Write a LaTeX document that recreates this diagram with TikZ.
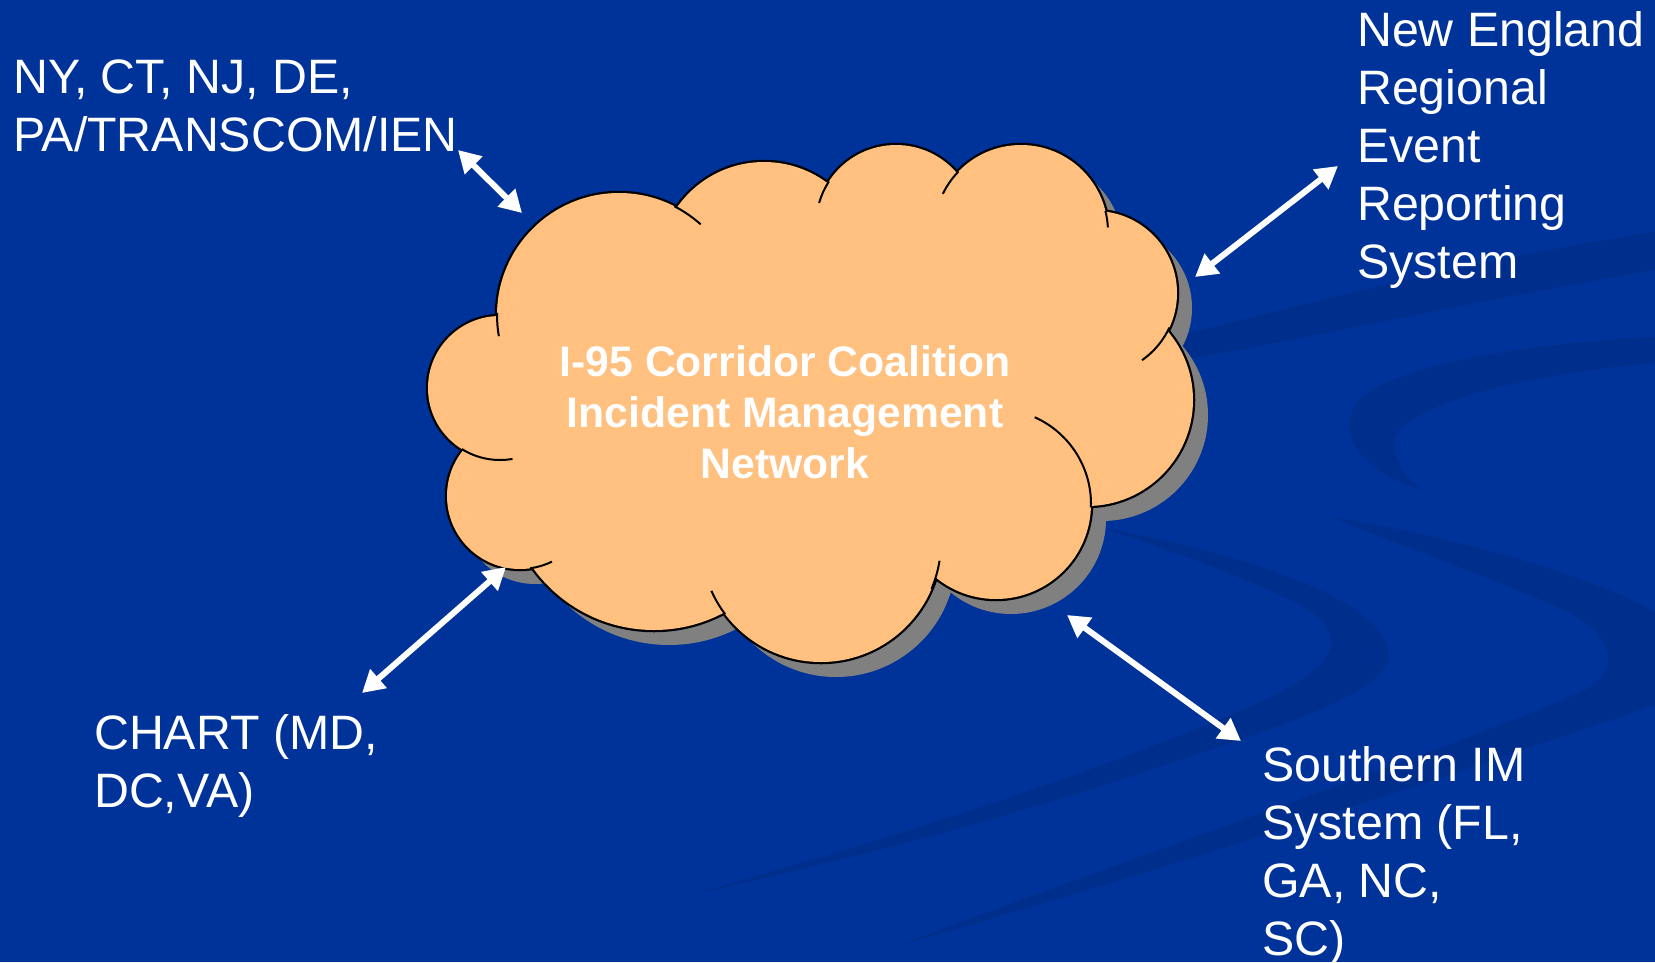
\documentclass[tikz,border=0pt]{standalone}
\usepackage{fontspec}
\setmainfont{Liberation Sans}
\usetikzlibrary{arrows.meta}

\definecolor{slideblue}{RGB}{0,51,153}
\definecolor{swooshblue}{RGB}{0,46,141}
\definecolor{cloudorange}{RGB}{255,192,128}
\definecolor{cloudshadow}{RGB}{128,128,128}

% cloud bumps: centre x / centre y / radius
\newcommand{\cloudbumps}{619/315/122, 764/268/106, 896/225/80, 1021/232/87,
  1095/293/82, 1087/400/106, 996/504/95, 821/542/120, 654/481/149,
  520/496/73, 500/388/72}

\tikzset{
  sidelabel/.style={text=white, inner sep=0pt, anchor=base west,
    font=\fontsize{48.3}{58}\selectfont},
  link/.style={white, line width=6pt,
    {Triangle[length=22pt,width=24pt]}-{Triangle[length=22pt,width=24pt]}},
  inner arc/.style={line width=2pt},
}

\begin{document}
\begin{tikzpicture}[x=1pt,y=-1pt]
\useasboundingbox (0,0) rectangle (1655,962);
\fill[slideblue] (0,0) rectangle (1655,962);

% background swooshes
\begin{scope}
  \clip (0,0) rectangle (1655,962);
  \fill[swooshblue] (1140,345) .. controls (1300,305) and (1480,258) .. (1655,232)
    -- (1655,270) .. controls (1480,300) and (1300,340) .. (1140,368) -- cycle;
  \fill[swooshblue] (1655,337) .. controls (1500,345) and (1380,370) .. (1355,405)
    .. controls (1335,440) and (1370,475) .. (1423,490)
    .. controls (1395,470) and (1385,440) .. (1405,425)
    .. controls (1440,395) and (1550,372) .. (1655,363) -- cycle;
  \fill[swooshblue] (1330,517) .. controls (1450,535) and (1590,575) .. (1655,612)
    -- (1655,705) .. controls (1450,775) and (1200,860) .. (900,945)
    .. controls (1150,850) and (1450,750) .. (1585,690)
    .. controls (1620,670) and (1615,640) .. (1571,613)
    .. controls (1520,590) and (1440,560) .. (1330,517) -- cycle;
  \fill[swooshblue] (1100,527) .. controls (1250,555) and (1380,600) .. (1388,650)
    .. controls (1395,690) and (1300,720) .. (1150,770)
    .. controls (1000,820) and (850,860) .. (690,895)
    .. controls (850,850) and (1050,790) .. (1230,715)
    .. controls (1330,675) and (1360,640) .. (1300,605)
    .. controls (1240,575) and (1170,550) .. (1100,527) -- cycle;
\end{scope}

% cloud shadow
\begin{scope}[shift={(15,15)}]
  \foreach \cx/\cy/\rad in \cloudbumps
    \fill[cloudshadow] (\cx,\cy) circle[radius=\rad];
  \fill[cloudshadow] (619,315) -- (764,268) -- (896,225) -- (1021,232) -- (1095,293)
    -- (1087,400) -- (996,504) -- (821,542) -- (654,481) -- (520,496) -- (500,388) -- cycle;
\end{scope}

% cloud outline and body
\foreach \cx/\cy/\rad in \cloudbumps
  \draw[line width=4.5pt] (\cx,\cy) circle[radius=\rad];
\foreach \cx/\cy/\rad in \cloudbumps
  \fill[cloudorange] (\cx,\cy) circle[radius=\rad];
\fill[cloudorange] (619,315) -- (764,268) -- (896,225) -- (1021,232) -- (1095,293)
  -- (1087,400) -- (996,504) -- (821,542) -- (654,481) -- (520,496) -- (500,388) -- cycle;

% arcs running on inside the cloud
\foreach \cx/\cy/\rad/\sa/\ea in {619/315/122/-63/-48, 619/315/122/170/181,
    896/225/80/-164/-147, 1021/232/87/-154/-136, 1021/232/87/-14/-3,
    1095/293/82/25/55, 996/504/95/-66/2, 821/542/120/9/23, 821/542/120/143/156,
    520/496/73/64/82, 500/388/72/80/122}
  \draw[inner arc] (\cx,\cy) ++(\sa:\rad) arc[start angle=\sa, end angle=\ea, radius=\rad];

\node[text=white, inner sep=0pt, align=center,
  font=\fontsize{42.7}{51}\selectfont\bfseries] (network) at (785,412.5)
  {I-95 Corridor Coalition\\Incident Management\\Network};

% the four systems
\node[sidelabel] (northeast) at (13,93)
  {\begin{tabular}[t]{@{}l@{}}NY, CT, NJ, DE,\\PA/TRANSCOM/IEN\end{tabular}};
\node[sidelabel] (newengland) at (1357,46)
  {\begin{tabular}[t]{@{}l@{}}New England\\Regional\\Event\\Reporting\\System\end{tabular}};
\node[sidelabel] (chart) at (94,749)
  {\begin{tabular}[t]{@{}l@{}}CHART (MD,\\DC,VA)\end{tabular}};
\node[sidelabel] (southern) at (1262,781)
  {\begin{tabular}[t]{@{}l@{}}Southern IM\\System (FL,\\GA, NC,\\SC)\end{tabular}};

\coordinate (northeast end) at (458,150);
\coordinate (northeast cloud) at (522,213);
\coordinate (newengland end) at (1338,166);
\coordinate (newengland cloud) at (1195,277);
\coordinate (chart end) at (362,693);
\coordinate (chart cloud) at (506,567);
\coordinate (southern end) at (1241,741);
\coordinate (southern cloud) at (1067,615);

\draw[link] (northeast end) -- (northeast cloud);
\draw[link] (newengland end) -- (newengland cloud);
\draw[link] (chart end) -- (chart cloud);
\draw[link] (southern end) -- (southern cloud);
\end{tikzpicture}
\end{document}
